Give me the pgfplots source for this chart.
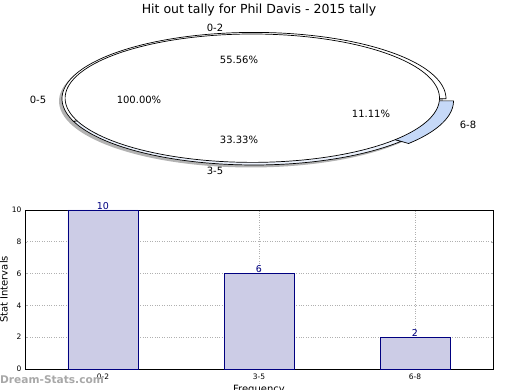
\documentclass[border=0pt]{standalone}
\usepackage{pgfplots}
\pgfplotsset{compat=1.18}
\usepackage{fontspec}
\setmainfont{DejaVu Sans}
\definecolor{barfill}{RGB}{204,204,230}
\definecolor{baredge}{RGB}{0,0,128}
\definecolor{wedgeA}{RGB}{255,255,255}
\definecolor{wedgeB}{RGB}{236,242,253}
\definecolor{wedgeC}{RGB}{198,217,248}
\definecolor{wm}{RGB}{168,168,168}
\definecolor{gridc}{RGB}{176,176,176}
% counts for the outer ring (0-2, 3-5, 6-8)
\def\cA{10}\def\cB{6}\def\cC{2}
\pgfmathsetmacro{\tot}{\cA+\cB+\cC}
\pgfmathsetmacro{\aA}{360*\cA/\tot}
\pgfmathsetmacro{\aB}{\aA+360*\cB/\tot}
\pgfmathsetmacro{\aC}{\aB+360*\cC/\tot}
% geometry (pixel units)
\def\ocx{254}\def\ocy{291.3}\def\orx{192}\def\ory{66.3}
\def\icx{252.3}\def\icy{291.8}\def\irx{187.2}\def\iry{64.2}
\def\ex{7.5}\def\ey{-2.2}
\begin{document}
\begin{tikzpicture}[x=1pt,y=1pt]
\useasboundingbox (0,0) rectangle (520,390);
\begin{axis}[at={(0pt,0pt)}, anchor=south west, scale only axis,
  width=520pt, height=390pt, xmin=0, xmax=520, ymin=0, ymax=390,
  hide axis, clip=false]
% shadow
\addplot[draw=none, fill=gray, fill opacity=0.6, domain=0:360, samples=120]
  ({\ocx-3+\orx*cos(x)},{\ocy-2.5+\ory*sin(x)}) -- cycle;
% outer ring wedges
\addplot[draw=black, line width=0.7pt, fill=wedgeA, domain=0:\aA, samples=100]
  ({\ocx+\orx*cos(x)},{\ocy+\ory*sin(x)}) -- (axis cs:\ocx,\ocy) -- cycle;
\addplot[draw=black, line width=0.7pt, fill=wedgeB, domain=\aA:\aB, samples=80]
  ({\ocx+\orx*cos(x)},{\ocy+\ory*sin(x)}) -- (axis cs:\ocx,\ocy) -- cycle;
\addplot[draw=black, line width=0.7pt, fill=wedgeC, domain=\aB:\aC, samples=40]
  ({\ocx+\ex+\orx*cos(x)},{\ocy+\ey+\ory*sin(x)}) -- (axis cs:\ocx+\ex,\ocy+\ey) -- cycle;
% inner full pie (0-5, 100%)
\addplot[draw=black, line width=0.7pt, fill=white, domain=0:360, samples=160]
  ({\icx+\irx*cos(x)},{\icy+\iry*sin(x)}) -- cycle;
% labels
\node[font=\fontsize{12.5}{14}\selectfont] at (axis cs:259,380) {Hit out tally for Phil Davis - 2015 tally};
\node[font=\fontsize{10}{12}\selectfont] at (axis cs:215,362) {0-2};
\node[font=\fontsize{10}{12}\selectfont] at (axis cs:215,219) {3-5};
\node[font=\fontsize{10}{12}\selectfont] at (axis cs:38,290) {0-5};
\node[font=\fontsize{10}{12}\selectfont] at (axis cs:468,265) {6-8};
\node[font=\fontsize{10}{12}\selectfont] at (axis cs:239,330) {55.56\%};
\node[font=\fontsize{10}{12}\selectfont] at (axis cs:139,290) {100.00\%};
\node[font=\fontsize{10}{12}\selectfont] at (axis cs:239,250) {33.33\%};
\node[font=\fontsize{10}{12}\selectfont] at (axis cs:371,276) {11.11\%};
\end{axis}
\begin{axis}[at={(25pt,21pt)}, anchor=south west, scale only axis,
  width=468pt, height=159pt,
  xmin=-0.5, xmax=2.5, ymin=0, ymax=10,
  ybar, bar width=70pt, bar shift=0pt,
  xtick={0,1,2}, xticklabels={0-2,3-5,6-8},
  ytick={0,2,4,6,8,10},
  grid=major, grid style={dotted, gridc, line width=0.7pt},
  axis line style={black, line width=0.8pt},
  tick align=inside, major tick length=2.5pt, tick style={gridc},
  tick label style={font=\fontsize{7.5}{9}\selectfont},
  xticklabel style={yshift=-1pt},
  /pgf/number format/assume math mode=true,
  xlabel={Frequency}, ylabel={Stat Intervals},
  label style={font=\fontsize{10}{12}\selectfont},
  every axis y label/.style={at={(axis description cs:-0.045,0.5)}, rotate=90, anchor=center},
  every axis x label/.style={at={(axis description cs:0.5,-0.129)}, anchor=center},
  nodes near coords,
  every node near coord/.append style={font=\fontsize{9.5}{11}\selectfont, text=baredge, inner sep=0.5pt},
  clip=false]
\addplot[draw=baredge, fill=barfill, line width=0.7pt] coordinates {(0,10) (1,6) (2,2)};
\end{axis}
\node[font=\bfseries\fontsize{10.6}{12}\selectfont, text=wm, anchor=west, inner sep=0pt] at (0,10) {Dream-Stats.com};
\end{tikzpicture}
\end{document}
